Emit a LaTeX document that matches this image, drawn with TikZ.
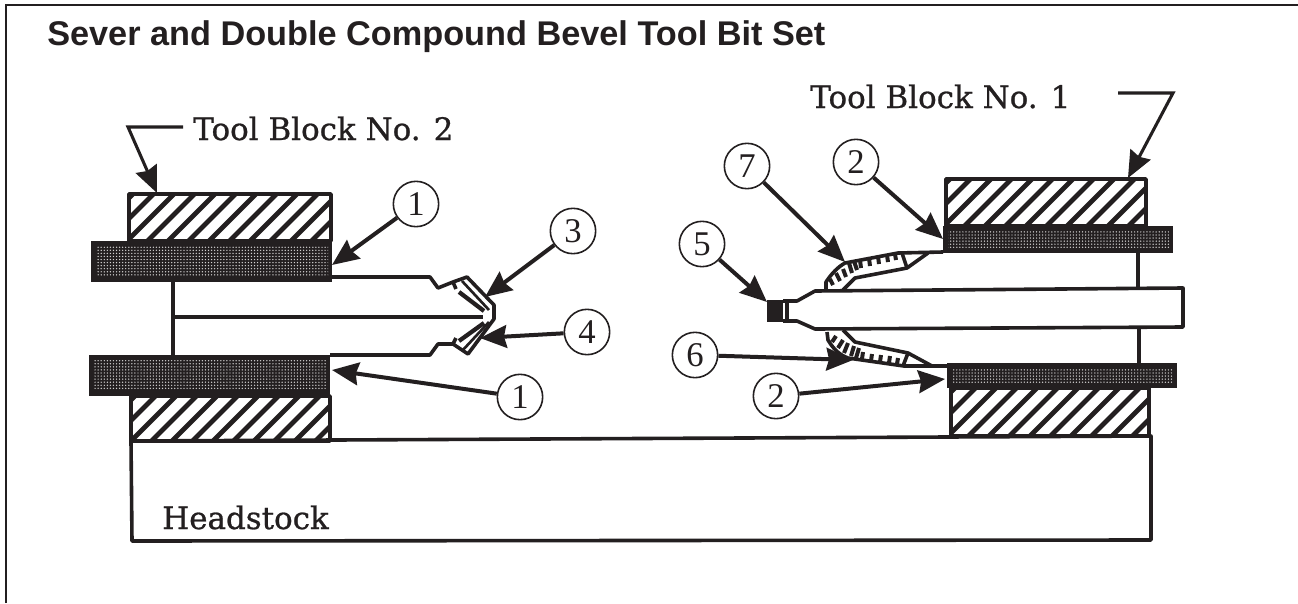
\documentclass[tikz,border=0pt]{standalone}
\usepackage{fontspec}
\setmainfont{Liberation Serif}
\newfontfamily\titlefont{Liberation Sans}[BoldFont={Liberation Sans Bold}]
\newfontfamily\labelfont{DejaVu Serif}[RawFeature={embolden=0.8}]
\usetikzlibrary{arrows.meta,patterns,calc}
\definecolor{ink}{HTML}{231F20}
\pgfdeclarepatternformonly{finedots}{\pgfqpoint{-.6pt}{-.6pt}}{\pgfqpoint{.6pt}{.6pt}}{\pgfqpoint{2.3pt}{2.3pt}}{\pgfpathcircle{\pgfqpoint{0pt}{0pt}}{.55pt}\pgfusepath{fill}}
\tikzset{
  frameline/.style={ink,line width=1.9pt},
  outline/.style={ink,line width=2.7pt,line join=round},
  thinline/.style={ink,line width=2pt,line join=round},
  numcircle/.style={circle,draw=ink,line width=1.2pt,minimum size=34pt,inner sep=0pt,fill=white,text=ink,font=\fontsize{26}{26}\selectfont},
  arr/.style={ink,line width=3pt,-{Stealth[length=20pt,width=17pt,inset=2pt]}},
  arrthin/.style={ink,line width=2.3pt,line join=miter,-{Stealth[length=20pt,width=17pt,inset=2pt]}},
  labeltext/.style={anchor=base west,inner sep=0pt,text=ink,font=\labelfont\fontsize{23.2}{23.2}\selectfont},
  titletext/.style={anchor=base west,inner sep=0pt,text=ink,font=\titlefont\bfseries\fontsize{25.7}{25.7}\selectfont},
  ticks/.style={ink,line width=3pt},
}
\newcommand{\hatchbox}[4]{%
  \begin{scope}
    \clip (#1,#2) rectangle (#3,#4);
    \foreach \k in {0,...,14}{
      \pgfmathsetmacro{\xs}{#1-(#4-#2)+20.5*\k+4}
      \pgfmathsetmacro{\xe}{\xs+(#4-#2)}
      \draw[ink,line width=3.6pt] (\xs,#4) -- (\xe,#2);
    }
  \end{scope}
  \draw[outline] (#1,#2) rectangle (#3,#4);
}
\newcommand{\stipplebar}[4]{%
  \fill[ink] (#1,#2) rectangle (#3,#4);
  \fill[pattern=finedots,pattern color=white!80!ink] ($(#1,#2)+(5,5)$) rectangle ($(#3,#4)+(-4,-6)$);
}
\begin{document}
\begin{tikzpicture}[x=0.75pt,y=-0.75pt]
\useasboundingbox (0,0) rectangle (1298,603);
\fill[white] (0,0) rectangle (1298,603);
% frame
\draw[frameline] (6,603) -- (6,5) -- (1298,5);
% title
\node[titletext] (title) at (47,45) {Sever and Double Compound Bevel Tool Bit Set};
% headstock
\draw[outline] (131,441) -- (1151,436) -- (1151,540) -- (132,541) -- cycle;
\node[labeltext] (head) at (162,529) {Headstock};
% --- left side
\draw[outline] (173,282) -- (173,355);
\hatchbox{129}{194}{331}{241}
\hatchbox{131}{396}{330}{441}
\stipplebar{91}{241}{332}{282}
\stipplebar{89}{355}{330}{396}
\draw[outline] (173,317) -- (483,317);
\draw[outline] (332,277) -- (430,277) -- (438,288) -- (453,282) -- (467,277) -- (494,305) -- (494,319) -- (468,354) -- (453,344) -- (438,344) -- (430,355) -- (330,355);
\draw[outline] (453,282) -- (456,289);
\draw[outline] (453,344) -- (456,338);
\draw[ink,line width=3.2pt] (459,292) -- (484,311);
\draw[ink,line width=3.2pt] (459,341) -- (484,323);
\draw[thinline] (462,281) -- (489,310);
\draw[thinline] (462,351) -- (489,322);
% --- right side
\draw[outline] (1138,253) -- (1138,288);
\draw[outline] (1139,327) -- (1139,364);
\hatchbox{946}{179}{1146}{226}
\hatchbox{951}{388}{1149}{436}
\stipplebar{943}{226}{1173}{253}
\stipplebar{947}{363}{1177}{388}
\draw[outline] (783,301) -- (797,301) -- (815,291) -- (1183,288) -- (1183,327) -- (815,329) -- (797,321) -- (783,321);
\fill[ink] (767,300) rectangle (783,322);
\draw[outline] (787,301) -- (787,321);
% upper insert
\draw[outline] (826,289) -- (826,282) .. controls (832,273) and (838,267) .. (845,263) -- (898,253) -- (943,252);
\draw[outline] (843,290) -- (855,278) -- (907,268) -- (928,253);
\draw[outline] (902,253) -- (907,268);
\foreach \a/\b/\c/\d in {860/260/861/268,869/258/870/266,878/256/879/264,887/255/888/262,895/254/896/260,
  830/279/833/285,836/273/840/281,843/269/846/277,849/263/852/273,854/261/857/270}{
  \draw[ticks] (\a,\b) -- (\c,\d);
}
% lower insert
\draw[outline] (827,332) -- (828,340) .. controls (834,350) and (840,355) .. (848,358) -- (904,366) -- (947,366);
\draw[outline] (843,330) -- (855,342) -- (908,353) -- (932,366);
\draw[outline] (908,353) -- (903,366);
\foreach \a/\b/\c/\d in {862/359/863/352,871/361/872/354,880/362/881/355,889/363/890/356,897/364/898/358,
  832/342/836/336,838/348/843/340,844/353/848/343,851/356/854/346,856/358/859/348}{
  \draw[ticks] (\a,\b) -- (\c,\d);
}
% circles
\node[numcircle] (n1a) at (416,204) {1};
\node[numcircle] (n1b) at (520,397) {1};
\node[numcircle] (n3) at (573,231) {3};
\node[numcircle] (n4) at (587,332) {4};
\node[numcircle] (n5) at (702,244) {5};
\node[numcircle] (n6) at (695,355) {6};
\node[numcircle] (n7) at (747,166) {7};
\node[numcircle] (n2a) at (856,162) {2};
\node[numcircle] (n2b) at (776,396) {2};
\coordinate (t1a) at (332,265);
\coordinate (t1b) at (332,370);
\coordinate (t3) at (485,297);
\coordinate (t4) at (480,338);
\coordinate (t5) at (767,302);
\coordinate (t6) at (853,360);
\coordinate (t7) at (845,262);
\coordinate (t2a) at (943,239);
\coordinate (t2b) at (945,379);
\draw[arr] (n1a) -- (t1a);
\draw[arr] (n1b) -- (t1b);
\draw[arr] (n3) -- (t3);
\draw[arr] (n4) -- (t4);
\draw[arr] (n5) -- (t5);
\draw[arr] (n6) -- (t6);
\draw[arr] (n7) -- (t7);
\draw[arr] (n2a) -- (t2a);
\draw[arr] (n2b) -- (t2b);
% tool block labels
\node[labeltext] (blk2) at (193,140) {Tool Block No. 2};
\node[labeltext] (blk1) at (810,108) {Tool Block No. 1};
\coordinate (s2) at (183,127);
\coordinate (b2) at (128,127);
\coordinate (e2) at (157,193);
\coordinate (s1) at (1118,93);
\coordinate (b1) at (1173,93);
\coordinate (e1) at (1128,178);
\draw[arrthin] (s2) -- (b2) -- (e2);
\draw[arrthin] (s1) -- (b1) -- (e1);
\end{tikzpicture}
\end{document}
